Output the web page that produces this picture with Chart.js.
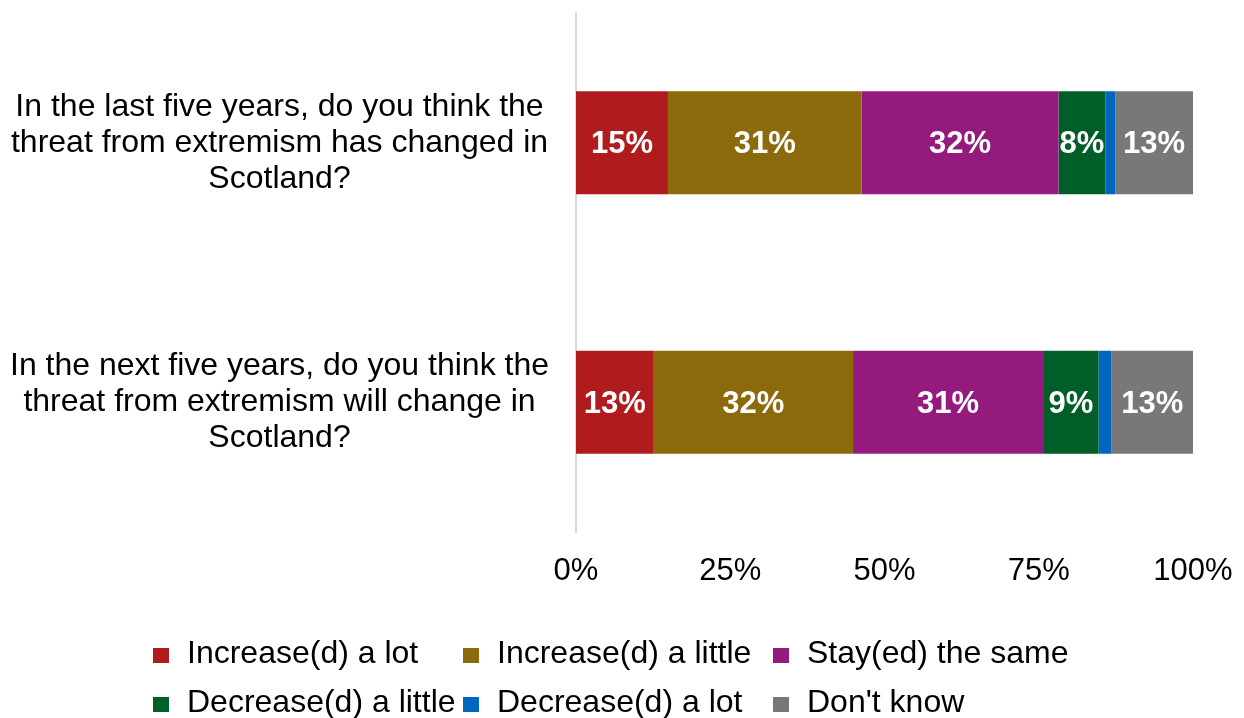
<!DOCTYPE html>
<html>
<head>
<meta charset="utf-8">
<title>Threat from extremism in Scotland</title>
<script src="https://cdn.jsdelivr.net/npm/chart.js@4.4.1/dist/chart.umd.min.js"></script>
<style>
  html, body { margin: 0; padding: 0; background: #fff; }
  #wrap { width: 1244px; height: 718px; }
</style>
</head>
<body>
<div id="wrap"><canvas id="threatChart" width="1244" height="718"></canvas></div>
<script>
// survey questions (one bar each), split into the lines shown on the axis
const questions = [
    ["In the last five years, do you think the", "threat from extremism has changed in", "Scotland?"],
    ["In the next five years, do you think the", "threat from extremism will change in", "Scotland?"]
];
const responses = ["Increase(d) a lot", "Increase(d) a little", "Stay(ed) the same",
    "Decrease(d) a little", "Decrease(d) a lot", "Don't know"];

// percentages per response, [last five years, next five years]
const increasedLot = [14.9, 12.6];
const increasedLittle = [31.4, 32.3];
const stayedSame = [31.9, 30.8];
const decreasedLittle = [7.6, 9.0];
const decreasedLot = [1.6, 2.1];
const dontKnow = [12.6, 13.2];

const xTicks = [0, 25, 50, 75, 100];

const colours = ["#B01B1E", "#8B6A0C", "#941B7D", "#005E29", "#0066C0", "#787878"];
const seriesValues = [increasedLot, increasedLittle, stayedSame, decreasedLittle, decreasedLot, dontKnow];
// the thin blue segment carries no value label
const unlabelled = ["Decrease(d) a lot"];

const FONT = "'Liberation Sans', Arial, sans-serif";
Chart.defaults.font.family = FONT;
Chart.defaults.color = "#000";

// white percentage written in the middle of every segment
const segmentLabels = {
    id: "segmentLabels",
    afterDatasetsDraw(chart) {
        const ctx = chart.ctx;
        ctx.save();
        ctx.font = "bold 31px " + FONT;
        ctx.fillStyle = "#fff";
        ctx.textAlign = "center";
        ctx.textBaseline = "middle";
        chart.data.datasets.forEach((ds, i) => {
            if (unlabelled.includes(ds.label)) return;
            chart.getDatasetMeta(i).data.forEach((bar, j) => {
                const c = bar.getCenterPoint();
                ctx.fillText(Math.round(ds.data[j]) + "%", c.x, c.y + 2);
            });
        });
        ctx.restore();
    }
};

// legend laid out as a 3-column grid under the axis
const gridLegend = {
    id: "gridLegend",
    afterDraw(chart) {
        const ctx = chart.ctx;
        const cols = [153, 463, 773];
        const rows = [663, 712];
        ctx.save();
        ctx.font = "32px " + FONT;
        ctx.textAlign = "left";
        ctx.textBaseline = "alphabetic";
        chart.data.datasets.forEach((ds, i) => {
            const x = cols[i % 3];
            const y = rows[Math.floor(i / 3)];
            ctx.fillStyle = ds.backgroundColor;
            ctx.fillRect(x, y - 15, 16, 15);
            ctx.fillStyle = "#000";
            ctx.fillText(ds.label, x + 34, y);
        });
        ctx.restore();
    }
};

let chartEl = document.getElementById("threatChart");
let threatChart = new Chart(chartEl, {
    type: "bar",
    data: {
        labels: questions,
        datasets: responses.map((name, i) => ({
            label: name,
            data: seriesValues[i],
            backgroundColor: colours[i],
            categoryPercentage: 1,
            barPercentage: 0.397
        }))
    },
    options: {
        indexAxis: "y",
        responsive: false,
        animation: false,
        layout: {
            padding: { top: 13, right: 51, bottom: 126, left: 0 }
        },
        plugins: {
            legend: { display: false },
            tooltip: { enabled: false }
        },
        scales: {
            x: {
                stacked: true,
                min: 0,
                max: 100,
                grid: { display: false, drawTicks: false },
                border: { display: false },
                afterBuildTicks: function (axis) {
                    axis.ticks = xTicks.map(v => ({ value: v }));
                },
                afterFit: function (scale) {
                    scale.height = 60;
                    // "100%" may hang into the right padding
                    scale.paddingLeft = 0;
                    scale.paddingRight = 0;
                },
                ticks: {
                    font: { size: 31 },
                    padding: 21,
                    maxRotation: 0,
                    callback: function (value) {
                        return value + "%";
                    }
                }
            },
            y: {
                stacked: true,
                grid: { display: false, drawTicks: false },
                border: { display: true, color: "#d9d9d9", width: 2 },
                afterFit: function (scale) {
                    scale.width = 576;
                    // the long question labels must not shrink the plot vertically
                    scale.paddingTop = 0;
                    scale.paddingBottom = 0;
                },
                ticks: {
                    font: { size: 32, lineHeight: 36 / 32 },
                    crossAlign: "center",
                    padding: 27
                }
            }
        }
    },
    plugins: [segmentLabels, gridLegend]
});
</script>
</body>
</html>
